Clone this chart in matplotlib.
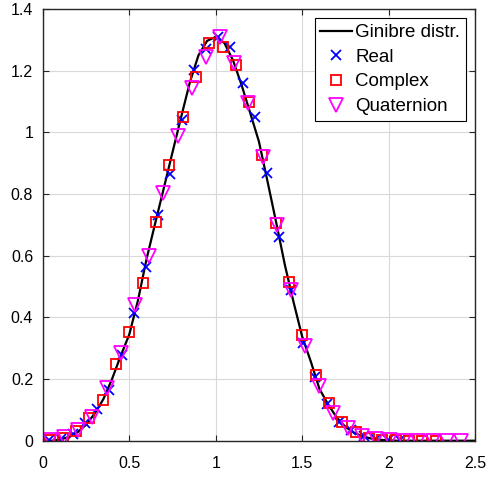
import matplotlib
matplotlib.use('Agg')
import matplotlib.pyplot as plt
from matplotlib.ticker import FuncFormatter

plt.rcParams['font.family'] = ['Liberation Sans', 'DejaVu Sans']

# theoretical Ginibre spacing curve
curve_s = [0.00, 0.05, 0.10, 0.15, 0.20, 0.25, 0.30, 0.35, 0.40, 0.45,
           0.50, 0.55, 0.60, 0.65, 0.70, 0.75, 0.80, 0.85, 0.90, 0.95,
           1.00, 1.05, 1.10, 1.15, 1.20, 1.25, 1.30, 1.35, 1.40, 1.45,
           1.50, 1.55, 1.60, 1.65, 1.70, 1.75, 1.80, 1.85, 1.90, 1.95,
           2.00, 2.05, 2.10, 2.20, 2.30, 2.40, 2.50]
curve_p = [0.000, 0.000, 0.004, 0.012, 0.027, 0.052, 0.088, 0.135, 0.200, 0.275,
           0.345, 0.455, 0.590, 0.706, 0.820, 0.936, 1.050, 1.162, 1.250, 1.297,
           1.310, 1.290, 1.234, 1.153, 1.062, 0.970, 0.840, 0.707, 0.570, 0.450,
           0.338, 0.257, 0.168, 0.118, 0.075, 0.045, 0.026, 0.014, 0.007, 0.003,
           0.001, 0.000, 0.000, 0.000, 0.000, 0.000, 0.000]

# histogram of real matrices
real_x = [0.035, 0.105, 0.175, 0.245, 0.315, 0.385, 0.455, 0.525, 0.595, 0.665,
          0.735, 0.805, 0.875, 0.945, 1.015, 1.085, 1.155, 1.225, 1.295, 1.365,
          1.435, 1.505, 1.575, 1.645, 1.715, 1.785, 1.855, 1.925, 1.995, 2.065]
real_y = [0.002, 0.006, 0.022, 0.056, 0.102, 0.164, 0.278, 0.415, 0.562, 0.732,
          0.866, 1.040, 1.202, 1.272, 1.310, 1.276, 1.161, 1.049, 0.867, 0.662,
          0.488, 0.316, 0.208, 0.119, 0.062, 0.035, 0.016, 0.007, 0.003, 0.001]

# histogram of complex matrices
cplx_x = [0.0385, 0.1155, 0.1925, 0.2695, 0.3465, 0.4235, 0.5005, 0.5775, 0.6545, 0.7315,
          0.8085, 0.8855, 0.9625, 1.0395, 1.1165, 1.1935, 1.2705, 1.3475, 1.4245, 1.5015,
          1.5785, 1.6555, 1.7325, 1.8095, 1.8865, 1.9635, 2.0405, 2.1175, 2.1945, 2.2715]
cplx_y = [0.001, 0.008, 0.030, 0.073, 0.132, 0.248, 0.352, 0.513, 0.710, 0.894,
          1.049, 1.181, 1.291, 1.278, 1.220, 1.100, 0.927, 0.707, 0.516, 0.343,
          0.213, 0.121, 0.062, 0.029, 0.008, 0.003, 0.001, 0.000, 0.000, 0.000]

# histogram of quaternion matrices
quat_x = [0.041, 0.123, 0.205, 0.287, 0.369, 0.451, 0.533, 0.615, 0.697, 0.779,
          0.861, 0.943, 1.025, 1.107, 1.189, 1.271, 1.353, 1.435, 1.517, 1.599,
          1.681, 1.763, 1.845, 1.927, 2.009, 2.091, 2.173, 2.255, 2.337, 2.419]
quat_y = [0.001, 0.013, 0.035, 0.078, 0.170, 0.283, 0.440, 0.600, 0.804, 0.988,
          1.143, 1.245, 1.310, 1.225, 1.096, 0.921, 0.700, 0.489, 0.307, 0.179,
          0.090, 0.040, 0.015, 0.004, 0.001, 0.000, 0.000, 0.000, 0.000, 0.000]

fig = plt.figure(figsize=(4.89, 4.78), dpi=100)
ax = fig.add_axes([0.0877, 0.078, 0.8837, 0.903])

ax.plot(curve_s, curve_p, color='black', lw=1.6, label='Ginibre distr.')
ax.plot(real_x, real_y, ls='none', marker='x', ms=6.5, mew=1.3,
        color='blue', label='Real')
ax.plot(cplx_x, cplx_y, ls='none', marker='s', ms=6.5, mew=1.3,
        mfc='none', mec='red', label='Complex')
ax.plot(quat_x, quat_y, ls='none', marker='v', ms=9.5, mew=1.3,
        mfc='none', mec='magenta', label='Quaternion')

ax.set_xlim(0, 2.5)
ax.set_ylim(0, 1.4)
ax.set_xticks([0, 0.5, 1, 1.5, 2, 2.5])
ax.set_yticks([0, 0.2, 0.4, 0.6, 0.8, 1.0, 1.2, 1.4])
fmt = FuncFormatter(lambda v, p: '%g' % v)
ax.xaxis.set_major_formatter(fmt)
ax.yaxis.set_major_formatter(fmt)
ax.tick_params(direction='in', top=True, right=True, length=4,
               width=0.8, labelsize=11.5, colors='#262626', labelcolor='black')
ax.tick_params(axis='y', pad=7)
ax.tick_params(axis='x', pad=11)
ax.grid(True, color='#d9d9d9', lw=0.8)
ax.set_axisbelow(True)
for sp in ax.spines.values():
    sp.set_color('#262626')
    sp.set_linewidth(1.0)

leg = ax.legend(loc='upper right', fontsize=13.5, fancybox=False, framealpha=1,
                edgecolor='black', borderaxespad=0.5, handlelength=1.7,
                handletextpad=0.15, labelspacing=0.4, borderpad=0.3)
leg.get_frame().set_linewidth(0.8)

fig.savefig('out.png', dpi=100)
